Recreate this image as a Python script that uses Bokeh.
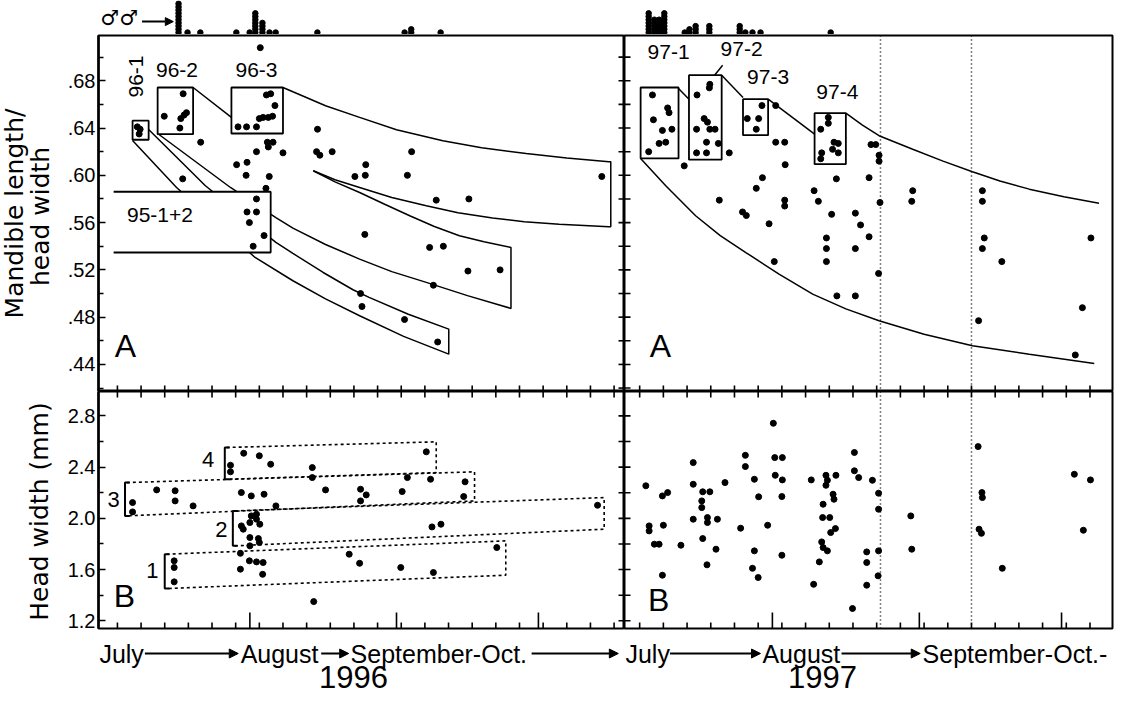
import numpy as np
from math import pi
from bokeh.plotting import figure
from bokeh.models import Range1d, LinearAxis, FixedTicker, Label, Arrow, NormalHead, Span
from bokeh.layouts import column, row
from bokeh.embed import file_html
from bokeh.resources import INLINE

FONT = "Liberation Sans"

# ---------------- data (x = days counted from 1 July; 1 Aug = 31, 1 Sep = 62, 1 Oct = 92) ----
male_day_96 = [16.1, 18.0, 20.7, 28.3, 31.1, 32.3, 33.8, 35.3, 36.6, 45.4, 63.8, 65.2, 71.4]
male_n_96 = [10, 1, 1, 1, 1, 7, 4, 1, 1, 1, 1, 2, 1]
male_day_97 = [4.9, 6.1, 7.1, 8.2, 12.5, 13.5, 14.8, 17.7, 24.1, 25.3, 26.8, 28.5, 43.3]
male_n_97 = [7, 5, 5, 7, 1, 2, 3, 3, 3, 1, 1, 1, 1]

ratio_day_96 = [7.2, 7.8, 7.6, 12.9, 16.9, 16.4, 17.1, 17.6, 16.2, 20.6, 16.8, 28.5, 30.3, 32.4, 33.0,
                33.8, 34.9, 35.8, 36.3, 34.5, 35.4, 34.7, 35.9, 34.9, 32.4, 38.0, 28.2, 30.4, 30.2, 35.1,
                34.4, 32.4, 30.4, 32.4, 30.9, 34.0, 31.7, 33.2, 45.3, 45.1, 45.8, 48.4, 55.5, 53.2, 55.4,
                65.2, 64.3, 70.4, 77.3, 105.4, 55.3, 69.0, 71.9, 77.1, 83.9, 69.8, 54.4, 54.7, 63.7, 70.7]
ratio_val_96 = [.641, .639, .635, .650, .669, .648, .651, .653, .640, .628, .597, .641, .641, .641, .648,
                .649, .649, .650, .659, .668, .669, .628, .628, .624, .620, .619, .609, .611, .600, .599,
                .589, .580, .569, .569, .560, .549, .540, .708, .639, .620, .617, .620, .609, .599, .600,
                .620, .600, .579, .580, .599, .550, .539, .540, .519, .520, .507, .500, .489, .478, .459]

ratio_day_97 = [5.7, 8.9, 9.2, 5.9, 7.8, 9.8, 7.1, 8.5, 4.9,
                17.8, 17.7, 15.1, 16.6, 17.3, 15.0, 17.8, 18.9, 17.1, 19.6, 15.0, 17.1,
                28.8, 25.7, 28.1, 27.6, 31.7,
                42.8, 42.8, 41.2, 44.0, 44.9, 43.7, 44.9, 41.4, 41.2,
                12.4, 21.9, 31.7, 33.6, 33.7, 28.9, 27.6, 19.8, 24.7, 25.5, 33.6, 33.6, 30.3, 31.4, 39.8,
                40.7, 44.5, 43.5, 51.4, 51.8, 52.8, 53.5, 53.5, 48.5, 49.6, 51.4, 42.4, 42.4, 42.4, 48.5,
                53.7, 53.4, 44.6, 48.5, 60.6, 60.4, 75.3, 75.3, 75.7, 75.3, 79.4, 74.5, 98.2, 96.4, 94.9]
ratio_val_97 = [.668, .657, .653, .647, .638, .639, .627, .628, .620,
                .677, .674, .668, .648, .645, .639, .639, .639, .628, .627, .619, .619,
                .659, .648, .648, .639, .659,
                .649, .644, .639, .628, .627, .622, .619, .619, .614,
                .608, .619, .628, .628, .609, .598, .589, .579, .569, .566, .579, .574, .559, .527, .587,
                .578, .597, .567, .598, .626, .626, .617, .612, .568, .558, .548, .547, .538, .527, .538,
                .577, .517, .498, .498, .587, .578, .587, .578, .547, .538, .527, .477, .547, .488, .448]

hw_day_96 = [6.2, 6.2, 11.3, 15.2, 15.2, 19.0, 26.9, 26.9, 29.7, 33.0, 35.4, 29.2, 31.3, 34.0, 36.5,
             44.2, 44.2, 47.0, 29.2, 29.6, 31.0, 31.3, 32.4, 32.4, 33.1, 31.0, 32.8, 33.0, 31.0,
             15.0, 15.0, 15.0, 29.0, 30.9, 32.4, 33.8, 29.0, 33.7, 44.5, 68.3, 64.3, 69.2, 76.5,
             54.4, 55.6, 54.4, 63.2, 76.2, 104.5, 69.5, 71.4, 83.2, 52.0, 54.2, 62.9, 69.8]
hw_val_96 = [2.123, 2.05, 2.222, 2.215, 2.136, 2.097, 2.414, 2.363, 2.508, 2.488, 2.422, 2.201, 2.175,
             2.188, 2.097, 2.396, 2.318, 2.222, 1.941, 1.915, 1.967, 2.019, 2.032, 1.993, 1.954, 1.85,
             1.842, 1.811, 1.785, 1.668, 1.616, 1.504, 1.727, 1.668, 1.66, 1.655, 1.603, 1.563, 1.35,
             2.519, 2.318, 2.305, 2.285, 2.227, 2.183, 2.136, 2.209, 2.17, 2.102, 1.933, 1.954, 1.772,
             1.72, 1.649, 1.616, 1.577]

hw_day_97 = [4.3, 5.0, 5.0, 6.1, 7.1, 8.0, 7.8, 8.9, 7.8, 11.7, 14.3, 14.3, 14.3, 16.3, 17.8, 16.1,
             16.1, 17.3, 17.3, 16.3, 19.4, 19.1, 17.2, 21.0, 25.3, 25.3, 24.3, 27.2, 28.1, 27.2, 26.8,
             28.0, 30.0, 31.2, 31.5, 33.1, 31.6, 33.1, 33.0, 33.0, 39.2, 42.3, 42.6, 42.3, 44.4, 41.7,
             43.8, 44.0, 41.6, 43.1, 44.3, 43.3, 41.4, 41.7, 42.6, 40.9, 39.7, 48.3, 48.3, 49.2, 52.1,
             47.9, 53.4, 53.4, 50.9, 50.9, 53.4, 50.9, 53.3, 60.2, 60.4, 74.4, 75.2, 75.3, 74.6, 75.1,
             79.5, 94.7, 98.1, 96.6]
hw_val_97 = [2.254, 1.941, 1.902, 1.798, 1.798, 1.946, 2.175, 2.201, 1.556, 1.79, 2.435, 2.266, 1.993,
             2.207, 2.207, 2.136, 2.084, 2.006, 1.967, 1.842, 1.993, 1.759, 1.637, 2.279, 2.492, 2.404,
             1.923, 2.305, 2.168, 1.746, 1.61, 1.538, 1.946, 2.742, 2.474, 2.474, 2.336, 2.3, 2.17,
             1.712, 2.3, 2.336, 2.297, 2.258, 2.336, 2.11, 2.188, 2.149, 2.006, 2.006, 1.92, 1.889,
             1.816, 1.772, 1.746, 1.66, 1.485, 2.514, 2.371, 2.318, 2.297, 1.296, 2.196, 2.071, 1.738,
             1.655, 1.746, 1.478, 1.551, 2.019, 1.759, 2.56, 2.201, 2.162, 1.915, 1.883, 1.61, 2.344,
             2.3, 1.907]

# cohort boxes (left, right, bottom, top) and projection curves, panel A 1996
box_left_96 = [6.2, 11.5, 27.1]
box_right_96 = [9.6, 19.0, 38.0]
box_bottom_96 = [.6301, .6348, .6354]
box_top_96 = [.6462, .6743, .6743]
box95_x = [2.2, 35.4, 35.4, 2.2]
box95_y = [.5861, .5861, .5347, .5347]
band3_x = [38.0, 40.1, 47.0, 54.2, 62.0, 71.8, 80.0, 89.4, 98.0, 106.9, 107.3, 107.3, 106.9, 96.4,
           89.0, 82.3, 75.0, 68.3, 61.0, 54.2, 49.0, 44.4]
band3_y = [.6743, .6707, .6589, .649, .6385, .6292, .6233, .6185, .6146, .6115, .6115, .5565, .5565,
           .5587, .5608, .5638, .5683, .5742, .5812, .5897, .5962, .6039]
band2_x = [11.5, 26.9, 36.5, 40.1, 47.0, 54.2, 61.0, 68.3, 77.0, 86.2, 86.2, 80.5, 75.3, 70.0, 64.8,
           59.5, 54.2, 49.0, 44.4]
band2_y = [.6354, .5897, .5643, .5553, .5415, .5291, .5185, .5094, .4982, .4874, .539, .5438, .5489,
           .5567, .5658, .5755, .5855, .5945, .6039]
band1_x = [9.6, 21.6, 36.5, 40.1, 46.5, 52.8, 56.2, 64.5, 73.05, 73.05, 63.5, 54.2, 47.0, 40.1, 32.1,
           15.5, 6.2]
band1_y = [.6388, .5912, .5432, .5339, .5178, .5032, .4967, .4825, .4699, .4487, .4637, .4812, .4955,
           .5108, .5305, .5897, .6295]
link96_x = [19.0, 27.1]
link96_y = [.6743, .649]

# panel A 1997
box_left_97 = [3.2, 13.4, 24.8, 39.9]
box_right_97 = [11.2, 20.3, 30.1, 46.5]
box_bottom_97 = [.6143, .6132, .634, .6094]
box_top_97 = [.6743, .6847, .6644, .6526]
lower97_x = [3.2, 8.5, 14.8, 20.0, 25.4, 32.4, 39.5, 46.5, 53.5, 63.0, 73.2, 85.2, 98.9]
lower97_y = [.6143, .5912, .5658, .5490, .5347, .5164, .4995, .4870, .477, .4655, .4558, .4487, .4408]
upper97_xs = [[11.2, 13.4], [20.3, 24.8], [30.1, 39.9],
              [46.5, 50.0, 53.5, 60.6, 67.0, 73.2, 79.0, 85.2, 92.5, 99.9], [20.5, 18.8]]
upper97_ys = [[.6735, .6644], [.6847, .6659], [.6644, .6348],
              [.6526, .6425, .6335, .6221, .6120, .603, .5952, .5883, .5818, .5764], [.6932, .6847]]
dotted_days_97 = [53.8, 73.0]

# panel B 1996 size-class boxes: corners TL, TR, BR, BL
class_x0 = [26.1, 5.0, 27.8, 13.4]
class_x1 = [70.4, 78.5, 105.9, 85.1]
class_tl = [2.553, 2.279, 2.058, 1.720]
class_tr = [2.597, 2.363, 2.162, 1.824]
class_br = [2.357, 2.136, 1.915, 1.556]
class_bl = [2.305, 2.019, 1.785, 1.452]

ratio_major = [0.44, 0.48, 0.52, 0.56, 0.60, 0.64, 0.68]
ratio_minor = [0.42, 0.46, 0.50, 0.54, 0.58, 0.62, 0.66, 0.70]
hw_major = [1.2, 1.6, 2.0, 2.4, 2.8]
hw_minor = [1.4, 1.8, 2.2, 2.6]
tick_days_96 = list(range(3, 111, 5))
tick_days_97 = list(range(3, 103, 5))
month_days = [31, 62, 92]

PXD = 4.739                       # pixels per day in every panel
XR96 = (-1.0, 110.2)
XR97 = (-0.2, 102.75)
YA = (0.4171, 0.7183)
YB = (1.140, 2.990)
YS = (0.375, 11.0)
MW = 64                           # width of the left title column
LB = 33                           # tick label border of the 1996 panels


def base_fig(width, height, xr, yr, left=0, right=0, top=0, bottom=0, outline=True):
    p = figure(width=width, height=height, x_range=Range1d(*xr), y_range=Range1d(*yr),
               output_backend="svg", toolbar_location=None, tools="",
               x_axis_location=None, y_axis_location=None,
               min_border=0, min_border_left=left, min_border_right=right,
               min_border_top=top, min_border_bottom=bottom)
    p.grid.visible = False
    p.outline_line_color = "black" if outline else None
    p.outline_line_width = 2
    p.background_fill_color = "white"
    p.border_fill_color = "white"
    return p


def txt(p, x, y, s, size, align="center", baseline="middle", angle=0.0, font=FONT):
    p.add_layout(Label(x=x, y=y, text=s, text_font=font, text_font_size=f"{size}px",
                       text_align=align, text_baseline=baseline, angle=angle, text_color="black"))


def rays(p, xs, ys, angle, length):
    p.ray(x=xs, y=ys, length=length, length_units="screen", angle=angle,
          line_color="black", line_width=1.6)


def left_axis(p, major, minor, labels):
    ax = LinearAxis(ticker=FixedTicker(ticks=major, minor_ticks=minor),
                    major_label_overrides=labels)
    ax.axis_line_width = 2.5
    ax.major_tick_in = 7
    ax.major_tick_out = 0
    ax.minor_tick_in = 5
    ax.minor_tick_out = 0
    ax.major_tick_line_width = 1.6
    ax.minor_tick_line_width = 1.6
    ax.major_label_standoff = 3
    ax.major_label_text_font = FONT
    ax.major_label_text_font_size = "20px"
    ax.major_label_text_color = "black"
    p.add_layout(ax, "left")


W_R = 490
W_L = LB + 527
HB = 241                          # panel B height incl. a 4 px bottom border

# ---------------- strip with males ----------------
strips = []
for days, ns, xr, w, lb, rb in [(male_day_96, male_n_96, XR96, MW + W_L, MW + LB, 0),
                                (male_day_97, male_n_97, XR97, W_R, 0, 2)]:
    s = base_fig(w, 34, xr, YS, left=lb, right=rb, outline=False)
    sx = np.repeat(days, ns)
    sy = np.concatenate([np.arange(1, n + 1) for n in ns])
    s.scatter(sx, sy, size=5.5, color="black")
    strips.append(s)
txt(strips[0], -0.4, 5.5, "♂♂", 21, align="left", font="DejaVu Sans")
strips[0].add_layout(Arrow(end=NormalHead(size=8, fill_color="black", line_color="black"),
                           x_start=8.4, y_start=4.4, x_end=15.0, y_end=4.4,
                           line_width=2, line_color="black"))

# ---------------- left title column ----------------
ma = base_fig(MW, 357, (0, MW), YA, top=1, outline=False)
txt(ma, 13.5, 0.5677, "Mandible length/", 25, angle=pi / 2, font="DejaVu Sans")
txt(ma, 39.5, 0.5652, "head width", 25, angle=pi / 2, font="DejaVu Sans")
mb = base_fig(MW, HB, (0, MW), YB, bottom=HB - 237, outline=False)
txt(mb, 38.5, 2.053, "Head width (mm)", 25, angle=pi / 2, font="DejaVu Sans")

# ---------------- panel A 1996 ----------------
a96 = base_fig(W_L, 357, XR96, YA, left=LB, top=1)
left_axis(a96, ratio_major, ratio_minor, {v: ("%.2f" % v)[1:] for v in ratio_major})
for bx, by in [(band3_x, band3_y), (band2_x, band2_y), (band1_x, band1_y), (link96_x, link96_y)]:
    a96.line(bx, by, line_color="black", line_width=1.5)
a96.patch(box95_x, box95_y, fill_color="white", line_color=None)
a96.line(box95_x, box95_y, line_color="black", line_width=1.8)
a96.quad(left=box_left_96, right=box_right_96, bottom=box_bottom_96, top=box_top_96,
         fill_color="white", line_color="black", line_width=1.8)
a96.scatter(ratio_day_96, ratio_val_96, size=6, color="black")
rays(a96, [XR96[1]] * (len(ratio_major) + len(ratio_minor)), ratio_major + ratio_minor, pi, 6)
rays(a96, tick_days_96, [YA[0]] * len(tick_days_96), pi / 2, 6)
txt(a96, 7.0, 0.6836, "96-1", 21, angle=pi / 2)
txt(a96, 15.6, 0.6887, "96-2", 21)
txt(a96, 32.4, 0.6887, "96-3", 21)
txt(a96, 12.0, 0.5665, "95-1+2", 21)
txt(a96, 4.7, 0.4552, "A", 32)

# ---------------- panel A 1997 ----------------
a97 = base_fig(W_R, 357, XR97, YA, right=2, top=1)
a97.line(lower97_x, lower97_y, line_color="black", line_width=1.5)
a97.multi_line(upper97_xs, upper97_ys, line_color="black", line_width=1.5)
a97.quad(left=box_left_97, right=box_right_97, bottom=box_bottom_97, top=box_top_97,
         fill_color="white", line_color="black", line_width=1.8)
a97.scatter(ratio_day_97, ratio_val_97, size=6, color="black")
for d in dotted_days_97:
    a97.add_layout(Span(location=d, dimension="height", line_color="black",
                        line_dash="1 3", line_width=1.5))
rays(a97, [XR97[0]] * (len(ratio_major) + len(ratio_minor)), ratio_major + ratio_minor, 0, 6)
rays(a97, tick_days_97, [YA[0]] * len(tick_days_97), pi / 2, 6)
for name, x, y in zip(["97-1", "97-2", "97-3", "97-4"], [9.1, 24.5, 30.1, 44.7],
                      [0.704, 0.7065, 0.6828, 0.6701]):
    txt(a97, x, y, name, 21)
txt(a97, 7.4, 0.4552, "A", 32)

# ---------------- panel B 1996 ----------------
b96 = base_fig(W_L, HB, XR96, YB, left=LB, bottom=HB - 237)
left_axis(b96, hw_major, hw_minor, {v: "%.1f" % v for v in hw_major})
dx = [[x0, x1, x1, x0] for x0, x1 in zip(class_x0, class_x1)]
dy = [[a, b, c, d] for a, b, c, d in zip(class_tl, class_tr, class_br, class_bl)]
b96.multi_line(dx, dy, line_color="black", line_dash="3 3", line_width=1.6)
bx = [[x0 + 0.6, x0 - 0.4, x0 - 0.4, x0 + 0.6] for x0 in class_x0]
by = [[a, a, d, d] for a, d in zip(class_tl, class_bl)]
b96.multi_line(bx, by, line_color="black", line_width=2)
b96.scatter(hw_day_96, hw_val_96, size=6, color="black")
all_hw = hw_major + hw_minor
rays(b96, [XR96[1]] * len(all_hw), all_hw, pi, 6)
rays(b96, tick_days_96, [YB[1]] * len(tick_days_96), -pi / 2, 6)
rays(b96, tick_days_96, [YB[0]] * len(tick_days_96), pi / 2, 6)
rays(b96, month_days, [YB[0]] * 3, pi / 2, 16)
for name, x, y in zip(["4", "3", "2", "1"], [22.2, 2.2, 25.0, 10.4], [2.459, 2.147, 1.912, 1.592]):
    txt(b96, x, y, name, 22)
txt(b96, 4.5, 1.39, "B", 32)

# ---------------- panel B 1997 ----------------
b97 = base_fig(W_R, HB, XR97, YB, right=2, bottom=HB - 237)
b97.scatter(hw_day_97, hw_val_97, size=6, color="black")
for d in dotted_days_97:
    b97.add_layout(Span(location=d, dimension="height", line_color="black",
                        line_dash="1 3", line_width=1.5))
rays(b97, [XR97[0]] * len(all_hw), all_hw, 0, 6)
rays(b97, tick_days_97, [YB[1]] * len(tick_days_97), -pi / 2, 6)
rays(b97, tick_days_97, [YB[0]] * len(tick_days_97), pi / 2, 6)
rays(b97, month_days, [YB[0]] * 3, pi / 2, 16)
txt(b97, 7.0, 1.359, "B", 32)

# ---------------- time axis text (own strips below the panels) ----------------
HT = 64
t96 = base_fig(MW + W_L, HT, (XR96[0] - (MW + LB) / PXD, XR96[1]), (0, HT), outline=False)
t97 = base_fig(W_R, HT, (XR97[0], XR97[0] + W_R / PXD), (0, HT), outline=False)
YM, YY = 43, 20
head = dict(size=9, fill_color="black", line_color="black")
for p, words, xs, arrows in [
    (t96, ["July", "August", "September-Oct."], [-0.6, 29.2, 52.4],
     [(9.0, 28.7), (46.2, 52.0), (90.6, 108.9)]),
    (t97, ["July", "August", "September-Oct.-"], [0.0, 28.9, 62.7],
     [(9.4, 28.5), (45.6, 62.2)]),
]:
    for w, x in zip(words, xs):
        txt(p, x, YM, w, 25, align="left")
    for x0, x1 in arrows:
        p.add_layout(Arrow(end=NormalHead(**head), x_start=x0, y_start=YM, x_end=x1, y_end=YM,
                           line_width=1.8, line_color="black"))
txt(t96, 53.0, YY, "1996", 31)
txt(t97, 41.6, YY, "1997", 31)

layout = column(row(strips[0], strips[1]),
                row(ma, a96, a97),
                row(mb, b96, b97),
                row(t96, t97))
open("out.html", "w").write(file_html(layout, INLINE))
